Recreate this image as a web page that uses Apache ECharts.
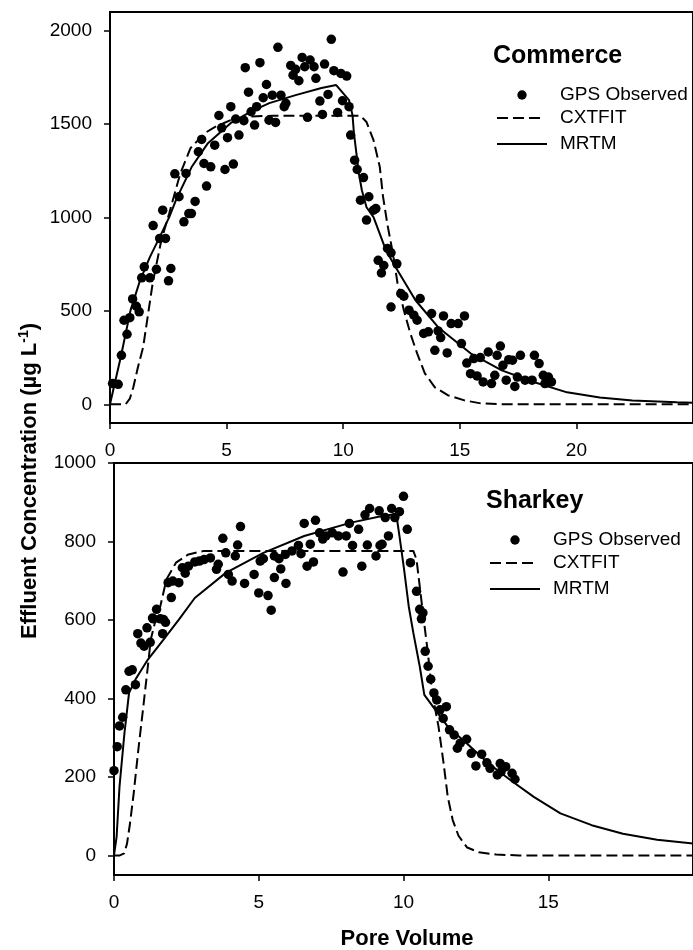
<!DOCTYPE html>
<html>
<head>
<meta charset="utf-8">
<script src="https://cdn.jsdelivr.net/npm/echarts@6/dist/echarts.min.js"></script>
<style>
  html, body { margin: 0; padding: 0; background: #fff; }
  #main { width: 693px; height: 950px; }
</style>
</head>
<body>
<div id="main"></div>
<script>
const FONT = '"Liberation Sans", Arial, Helvetica, sans-serif';

// Commerce (top panel)
const commerceObs = [
  [0.11,111],[0.35,107],[0.49,262],[0.6,450],[0.73,375],[0.85,464],[0.97,564],[1.13,525],[1.25,495],
  [1.36,677],[1.47,736],[1.71,677],[1.85,957],[1.99,723],[2.13,888],[2.26,1039],[2.38,888],[2.51,661],
  [2.61,727],[2.78,1234],[2.96,1111],[3.17,977],[3.26,1236],[3.38,1021],[3.49,1021],[3.65,1086],[3.79,1352],
  [3.93,1418],[4.03,1289],[4.14,1168],[4.32,1271],[4.49,1387],[4.67,1546],[4.79,1480],[4.93,1257],[5.04,1427],
  [5.18,1593],[5.29,1286],[5.39,1527],[5.53,1441],[5.74,1518],[5.8,1802],[5.94,1671],[6.05,1566],[6.2,1495],
  [6.29,1593],[6.43,1829],[6.57,1641],[6.71,1712],[6.82,1521],[6.96,1655],[7.1,1509],[7.2,1911],[7.33,1655],
  [7.47,1593],[7.54,1611],[7.75,1814],[7.85,1762],[7.96,1793],[8.1,1732],[8.24,1857],[8.35,1807],[8.47,1536],
  [8.58,1843],[8.75,1807],[8.83,1745],[9.0,1623],[9.11,1552],[9.2,1821],[9.35,1659],[9.49,1954],[9.6,1786],
  [9.76,1562],[9.9,1771],[9.97,1625],[10.15,1757],[10.25,1593],[10.32,1441],[10.49,1307],[10.6,1257],
  [10.74,1093],[10.87,1214],[11.0,986],[11.1,1111],[11.3,1039],[11.4,1048],[11.5,771],[11.64,703],[11.74,743],
  [11.9,834],[12.05,811],[12.05,521],[12.3,752],[12.47,593],[12.6,579],[12.82,504],[13.03,477],[13.17,450],
  [13.3,566],[13.45,379],[13.65,388],[13.79,486],[13.93,289],[14.07,393],[14.18,357],[14.3,473],[14.46,275],
  [14.63,432],[14.93,432],[15.07,325],[15.2,473],[15.3,221],[15.46,164],[15.6,245],[15.74,152],[15.88,250],
  [16.0,120],[16.22,280],[16.36,111],[16.5,155],[16.6,262],[16.74,312],[16.85,209],[16.99,129],[17.1,239],
  [17.26,236],[17.36,96],[17.47,146],[17.6,262],[17.8,129],[18.1,129],[18.2,262],[18.4,218],[18.58,155],
  [18.65,111],[18.8,146],[18.93,120]
];
const commerceCxtfit = [
  [0,0],[0.67,0],[0.85,30],[1.0,91],[1.2,200],[1.42,305],[1.83,648],[2.2,878],[2.54,1023],[3.0,1230],
  [3.45,1371],[4.07,1452],[4.49,1484],[5.17,1521],[5.88,1540],[7.0,1545],[10.74,1545],[11.0,1511],
  [11.3,1414],[11.57,1270],[11.71,1110],[11.9,960],[12.13,809],[12.33,648],[12.6,504],[12.88,379],
  [13.17,273],[13.5,166],[13.93,91],[14.5,48],[15.2,21],[15.9,5],[17.0,0],[25,0]
];
const commerceMrtm = [
  [0,0],[0.05,0],[0.46,252],[0.88,503],[1.29,664],[1.71,788],[2.13,895],[2.54,1002],[2.85,1100],[3.5,1270],
  [4.2,1398],[5.17,1505],[6.0,1564],[6.83,1612],[7.96,1655],[9.07,1693],[9.7,1709],[10.25,1628],[10.4,1548],
  [10.46,1452],[10.67,1237],[10.8,1146],[11.0,1055],[11.3,1002],[11.83,825],[12.25,734],[13.1,557],
  [14.07,413],[15.46,273],[16.8,182],[18.2,118],[19.6,64],[21.0,37],[22.4,21],[24.3,11],[25,9]
];

// Sharkey (bottom panel)
const sharkeyObs = [
  [0.0,216],[0.11,277],[0.19,330],[0.3,352],[0.41,422],[0.52,469],[0.63,473],[0.74,435],[0.82,565],
  [0.93,541],[1.04,533],[1.14,580],[1.25,543],[1.33,605],[1.36,603],[1.47,627],[1.6,603],[1.68,565],
  [1.71,601],[1.78,594],[1.87,695],[1.98,657],[2.03,699],[2.24,695],[2.36,733],[2.46,719],[2.57,737],
  [2.79,748],[2.95,750],[3.11,754],[3.33,758],[3.54,729],[3.6,742],[3.76,808],[3.86,771],[3.95,716],
  [4.08,699],[4.19,763],[4.27,791],[4.37,838],[4.51,693],[4.84,716],[5.0,669],[5.05,750],[5.16,756],
  [5.32,662],[5.43,625],[5.54,763],[5.54,708],[5.7,756],[5.76,730],[5.92,767],[5.94,693],[6.15,776],
  [6.37,790],[6.46,769],[6.57,846],[6.67,737],[6.78,793],[6.89,748],[6.96,854],[7.1,822],[7.21,806],
  [7.32,814],[7.54,822],[7.75,814],[7.91,722],[8.02,814],[8.13,846],[8.24,790],[8.45,831],[8.56,737],
  [8.67,868],[8.75,791],[8.83,884],[9.05,763],[9.16,878],[9.19,790],[9.26,793],[9.37,861],[9.48,814],
  [9.59,884],[9.7,861],[9.86,876],[10.0,915],[10.13,831],[10.24,746],[10.45,673],[10.56,627],[10.62,603],
  [10.67,618],[10.75,520],[10.85,482],[10.94,449],[11.05,414],[11.15,396],[11.26,371],[11.37,349],
  [11.48,379],[11.59,320],[11.75,307],[11.86,273],[11.96,286],[12.18,296],[12.34,260],[12.5,228],
  [12.7,258],[12.88,236],[12.99,222],[13.24,205],[13.34,234],[13.37,213],[13.53,226],[13.75,209],[13.85,194]
];
const sharkeyCxtfit = [
  [0,0],[0.2,0],[0.35,5],[0.45,30],[0.55,80],[0.68,158],[0.84,269],[1.0,371],[1.17,482],[1.27,550],
  [1.44,601],[1.6,635],[1.81,703],[2.14,746],[2.57,767],[3.11,776],[10.34,776],[10.45,754],[10.56,686],
  [10.67,618],[10.83,524],[10.99,414],[11.21,328],[11.37,243],[11.53,149],[11.7,90],[11.9,50],[12.2,20],
  [12.6,8],[13.2,2],[14.0,0],[20,0]
];
const sharkeyMrtm = [
  [0,0],[0.01,5],[0.09,47],[0.19,175],[0.36,311],[0.52,414],[0.74,448],[1.17,499],[1.71,550],[2.24,601],
  [2.79,656],[3.86,720],[5.16,771],[6.57,814],[8.19,848],[9.26,865],[9.75,870],[9.86,814],[10.02,729],
  [10.18,635],[10.34,567],[10.56,482],[10.72,409],[11.1,371],[11.53,328],[12.18,286],[12.94,234],
  [13.69,192],[14.5,149],[15.42,107],[16.5,77],[17.58,55],[18.76,40],[20,30]
];

// tick labels
const commerceXTicks = [0, 5, 10, 15, 20];
const commerceYTicks = [0, 500, 1000, 1500, 2000];
const sharkeyXTicks = [0, 5, 10, 15];
const sharkeyYTicks = [0, 200, 400, 600, 800, 1000];

const chart = echarts.init(document.getElementById('main'));

function xAxisFor(idx, max, ticks) {
  return {
    type: 'value', gridIndex: idx, min: 0, max: max, position: 'bottom',
    axisLine: { show: false, onZero: false },
    splitLine: { show: false },
    axisTick: { show: true, length: 6, customValues: ticks, lineStyle: { color: '#000', width: 1.5 } },
    axisLabel: { customValues: ticks, margin: 18, fontSize: 19, color: '#000', fontFamily: FONT, formatter: v => String(v) }
  };
}
function yAxisFor(idx, min, max, ticks) {
  return {
    type: 'value', gridIndex: idx, min: min, max: max, position: 'left',
    axisLine: { show: false, onZero: false },
    splitLine: { show: false },
    axisTick: { show: true, length: 6, customValues: ticks, lineStyle: { color: '#000', width: 1.5 } },
    axisLabel: { customValues: ticks, margin: 18, fontSize: 19, color: '#000', fontFamily: FONT, formatter: v => String(v) }
  };
}
const dashed = { color: '#000', width: 2, type: [11, 5] };
const solid = { color: '#000', width: 2 };
const dot = { color: '#000', opacity: 1 };

function legend(title, tx, ty, x0, y0) {
  // title, dot, dashed line, solid line and their labels
  return [
    { type: 'text', left: tx, top: ty, style: { text: title, font: 'bold 25px ' + FONT, fill: '#000' } },
    { type: 'circle', shape: { cx: x0 + 25, cy: y0, r: 4.7 }, style: { fill: '#000' } },
    { type: 'line', shape: { x1: x0, y1: y0 + 23, x2: x0 + 46, y2: y0 + 23 }, style: { stroke: '#000', lineWidth: 2, lineDash: [11, 5] } },
    { type: 'line', shape: { x1: x0, y1: y0 + 49, x2: x0 + 50, y2: y0 + 49 }, style: { stroke: '#000', lineWidth: 2 } },
    { type: 'text', x: x0 + 63, y: y0, style: { text: 'GPS Observed', font: '19px ' + FONT, fill: '#000', verticalAlign: 'middle' } },
    { type: 'text', x: x0 + 63, y: y0 + 23, style: { text: 'CXTFIT', font: '19px ' + FONT, fill: '#000', verticalAlign: 'middle' } },
    { type: 'text', x: x0 + 63, y: y0 + 49, style: { text: 'MRTM', font: '19px ' + FONT, fill: '#000', verticalAlign: 'middle' } }
  ];
}

chart.setOption({
  backgroundColor: '#fff',
  animation: false,
  grid: [
    { left: 110, top: 12, width: 600, height: 411, show: true, borderColor: '#000', borderWidth: 2, backgroundColor: 'transparent' },
    { left: 114, top: 463, width: 617, height: 412, show: true, borderColor: '#000', borderWidth: 2, backgroundColor: 'transparent' }
  ],
  xAxis: [xAxisFor(0, 25, commerceXTicks), xAxisFor(1, 20, sharkeyXTicks)],
  yAxis: [yAxisFor(0, -100, 2100, commerceYTicks), yAxisFor(1, -50, 1000, sharkeyYTicks)],
  series: [
    { name: 'CXTFIT', type: 'line', xAxisIndex: 0, yAxisIndex: 0, data: commerceCxtfit, showSymbol: false, lineStyle: dashed },
    { name: 'MRTM', type: 'line', xAxisIndex: 0, yAxisIndex: 0, data: commerceMrtm, showSymbol: false, lineStyle: solid },
    { name: 'GPS Observed', type: 'scatter', xAxisIndex: 0, yAxisIndex: 0, data: commerceObs, symbolSize: 9.5, itemStyle: dot },
    { name: 'CXTFIT', type: 'line', xAxisIndex: 1, yAxisIndex: 1, data: sharkeyCxtfit, showSymbol: false, lineStyle: dashed },
    { name: 'MRTM', type: 'line', xAxisIndex: 1, yAxisIndex: 1, data: sharkeyMrtm, showSymbol: false, lineStyle: solid },
    { name: 'GPS Observed', type: 'scatter', xAxisIndex: 1, yAxisIndex: 1, data: sharkeyObs, symbolSize: 9.5, itemStyle: dot }
  ],
  graphic: [
    ...legend('Commerce', 493, 44, 497, 95),
    ...legend('Sharkey', 486, 489, 490, 540),
    {
      type: 'text', x: 30, y: 481, rotation: Math.PI / 2,
      style: {
        text: '{t|Effluent Concentration (µg L}{s|-1}{t|)}',
        align: 'center', verticalAlign: 'middle', fill: '#000',
        rich: {
          t: { fontSize: 22, fontWeight: 'bold', fontFamily: FONT, fill: '#000', lineHeight: 26 },
          s: { fontSize: 14, fontWeight: 'bold', fontFamily: FONT, fill: '#000', verticalAlign: 'top' }
        }
      }
    },
    {
      type: 'text', x: 407, y: 939,
      style: { text: 'Pore Volume', font: 'bold 22px ' + FONT, fill: '#000', align: 'center', verticalAlign: 'middle' }
    }
  ]
});
</script>
</body>
</html>
